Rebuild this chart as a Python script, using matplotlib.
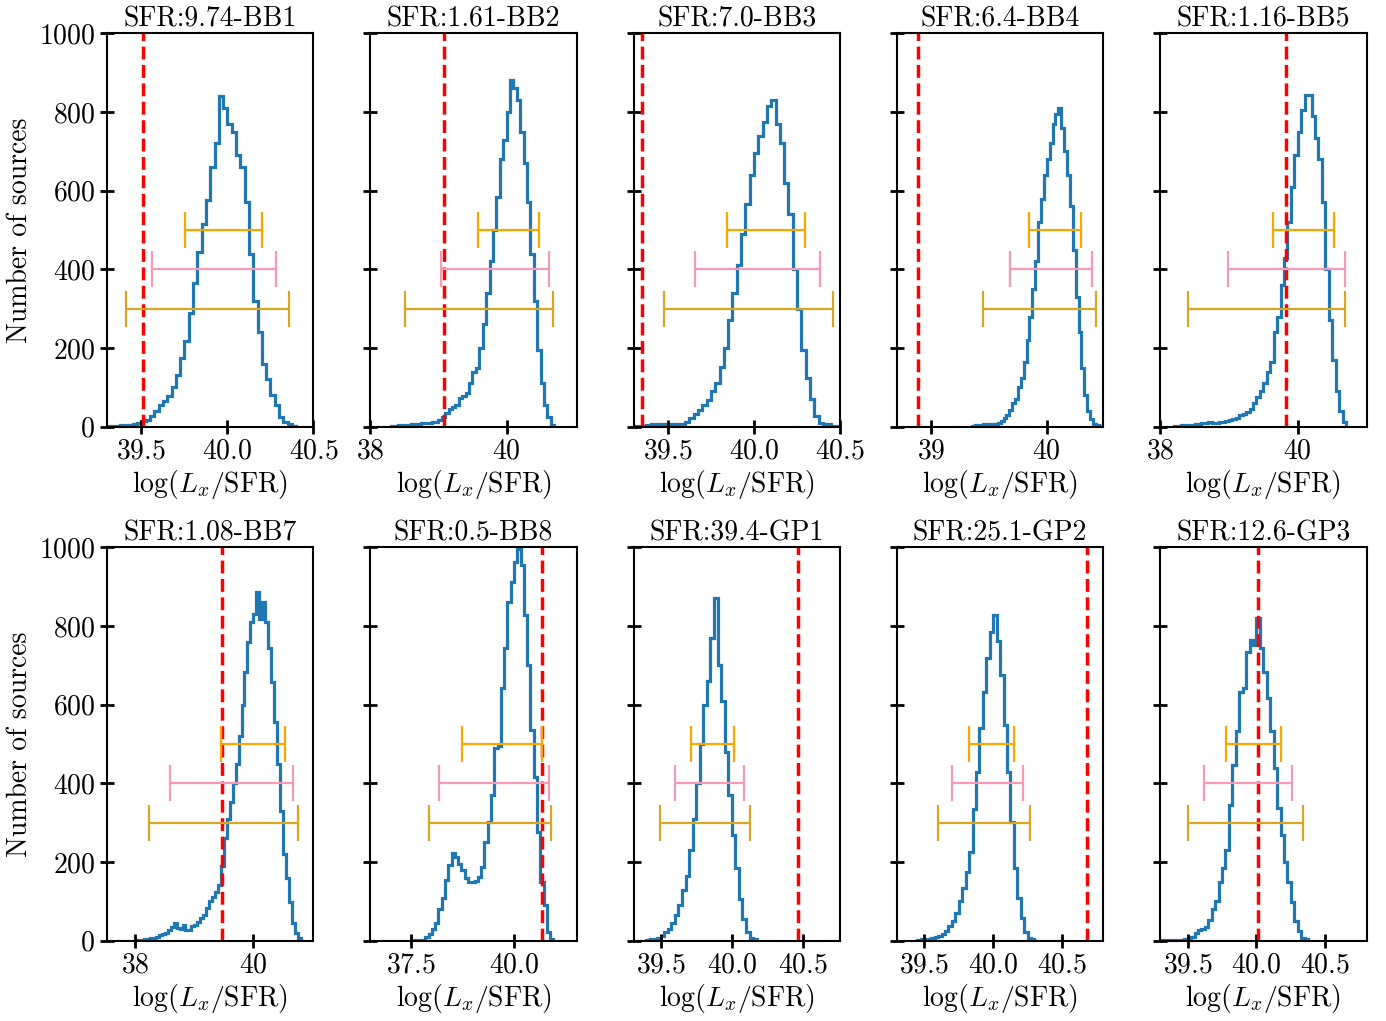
import numpy as np
import matplotlib.pyplot as plt

plt.rcParams['font.family'] = 'serif'
plt.rcParams['font.serif'] = ['cmr10', 'DejaVu Serif']
plt.rcParams['mathtext.fontset'] = 'cm'
plt.rcParams['axes.formatter.use_mathtext'] = True
plt.rcParams['font.size'] = 20

titles = ['SFR:9.74-BB1', 'SFR:1.61-BB2', 'SFR:7.0-BB3', 'SFR:6.4-BB4', 'SFR:1.16-BB5',
          'SFR:1.08-BB7', 'SFR:0.5-BB8', 'SFR:39.4-GP1', 'SFR:25.1-GP2', 'SFR:12.6-GP3']

# red dashed reference line per panel
ref_line = [39.51, 39.083, 39.352, 38.884, 39.831, 39.473, 40.685, 40.462, 40.68, 40.013]

# x-limits and ticks per panel
xlims = [(39.3, 40.5), (38.0, 41.03), (39.3, 40.5), (38.7, 40.49), (38.0, 41.0),
         (37.52, 41.02), (36.5, 41.53), (39.31, 40.76), (39.3, 40.8), (39.3, 40.8)]
xticks = [[39.5, 40.0, 40.5], [38, 40], [39.5, 40.0, 40.5], [39, 40], [38, 40],
          [38, 40], [37.5, 40.0], [39.5, 40.0, 40.5], [39.5, 40.0, 40.5], [39.5, 40.0, 40.5]]

# horizontal ranges (lo, hi) drawn at y=500, 400, 300
range_500 = [(39.752, 40.198), (39.58, 40.473), (39.844, 40.296), (39.846, 40.296), (39.634, 40.53),
             (39.445, 40.538), (38.734, 40.685), (39.713, 40.012), (39.825, 40.148), (39.781, 40.178)]
range_400 = [(39.564, 40.285), (39.039, 40.624), (39.66, 40.385), (39.681, 40.391), (38.993, 40.689),
             (38.595, 40.68), (38.185, 40.847), (39.602, 40.088), (39.699, 40.218), (39.616, 40.258)]
range_300 = [(39.409, 40.358), (38.507, 40.688), (39.475, 40.457), (39.446, 40.423), (38.4, 40.689),
             (38.227, 40.76), (37.927, 40.903), (39.495, 40.128), (39.602, 40.269), (39.502, 40.338)]

# histograms: first bin edge, bin width, counts
hist_start = [39.30, 38.30, 39.30, 39.35, 38.20, 38.00, 37.52, 39.40, 39.45, 39.30]
hist_width = [0.025, 0.05, 0.025, 0.025, 0.05, 0.05, 0.08, 0.025, 0.025, 0.025]

counts_bb1 = [2, 3, 3, 4, 4, 5, 7, 9, 15, 18, 28, 40, 55, 65, 78, 100, 131, 175, 218, 290,
              365, 445, 515, 575, 660, 720, 840, 810, 770, 750, 690, 660, 570, 440, 320, 240,
              160, 120, 80, 55, 25, 12, 6, 2]
counts_bb2 = [3, 3, 4, 4, 5, 5, 6, 6, 8, 9, 10, 10, 11, 13, 16, 25, 35, 45, 50, 55, 72, 78,
              85, 110, 140, 150, 200, 260, 340, 420, 500, 585, 680, 730, 800, 880, 860, 830,
              750, 670, 570, 440, 320, 195, 110, 55, 25, 5]
counts_bb3 = [2, 3, 3, 5, 6, 6, 7, 7, 7, 7, 6, 8, 12, 21, 32, 42, 55, 68, 90, 110, 153, 200,
              270, 340, 410, 490, 565, 640, 695, 740, 775, 815, 831, 770, 720, 620, 540, 400,
              300, 195, 125, 70, 28, 10, 7, 6, 3, 2]
counts_bb4 = [3, 4, 5, 5, 6, 6, 7, 7, 8, 10, 15, 22, 30, 42, 60, 70, 100, 125, 165, 220, 280,
              350, 420, 520, 580, 640, 680, 720, 770, 795, 810, 760, 700, 640, 560, 450, 330,
              240, 150, 80, 40, 20, 8, 5, 2]
counts_bb5 = [3, 3, 4, 4, 5, 5, 6, 8, 10, 10, 11, 10, 10, 11, 12, 14, 18, 20, 22, 30, 32, 38,
              45, 60, 75, 90, 110, 140, 165, 240, 280, 360, 430, 520, 610, 690, 750, 805, 843,
              843, 790, 735, 680, 570, 400, 270, 170, 90, 40, 12]
counts_bb7 = [2, 3, 3, 4, 5, 7, 8, 10, 15, 18, 20, 28, 36, 44, 32, 30, 40, 28, 27, 38, 40, 48,
              57, 65, 82, 100, 110, 125, 142, 190, 260, 310, 353, 400, 450, 520, 600, 684, 760,
              810, 830, 887, 819, 861, 810, 743, 658, 557, 450, 330, 220, 160, 99, 45, 20, 8]
counts_bb8 = [2, 2, 3, 3, 10, 18, 30, 45, 80, 108, 154, 192, 222, 213, 195, 180, 160, 150, 150,
              152, 163, 188, 252, 303, 371, 489, 495, 642, 743, 861, 912, 963, 997, 955, 827,
              700, 536, 417, 277, 150, 91, 23, 4]
counts_gp1 = [3, 4, 5, 8, 12, 22, 30, 45, 65, 90, 130, 165, 230, 310, 400, 500, 600, 660, 770,
              870, 700, 610, 480, 370, 270, 185, 105, 55, 22, 8, 4]
counts_gp2 = [3, 4, 4, 5, 6, 9, 12, 18, 25, 38, 50, 70, 100, 135, 175, 226, 336, 430, 540, 633,
              718, 786, 829, 761, 676, 548, 430, 303, 184, 108, 57, 23, 8, 4]
counts_gp3 = [2, 2, 2, 2, 2, 3, 3, 5, 8, 10, 20, 27, 30, 35, 53, 80, 100, 150, 184, 230, 345,
              447, 532, 633, 642, 735, 765, 752, 820, 743, 684, 616, 532, 439, 337, 270, 200,
              150, 99, 50, 25, 8, 4]

all_counts = [counts_bb1, counts_bb2, counts_bb3, counts_bb4, counts_bb5,
              counts_bb7, counts_bb8, counts_gp1, counts_gp2, counts_gp3]

fig, axes = plt.subplots(2, 5, figsize=(13.86, 10.21), dpi=100, sharey=True)
fig.subplots_adjust(left=0.0772, right=0.986, top=0.9674, bottom=0.0786,
                    wspace=0.275, hspace=0.3066)

for i, ax in enumerate(axes.flat):
    counts = np.array(all_counts[i])
    edges = hist_start[i] + hist_width[i] * np.arange(len(counts) + 1)
    ax.stairs(counts, edges, color='#1f77b4', lw=2.3, baseline=0)
    ax.axvline(ref_line[i], color='red', ls='--', lw=2.5)

    for (lo, hi), yv, c in [(range_500[i], 500, '#ffa500'),
                            (range_400[i], 400, '#f799b8'),
                            (range_300[i], 300, '#daa520')]:
        ax.errorbar((lo + hi) / 2, yv, xerr=(hi - lo) / 2, fmt='none', ecolor=c,
                    elinewidth=1.6, capsize=13, capthick=1.6)

    ax.set_xlim(*xlims[i])
    ax.set_ylim(0, 1000)
    ax.set_xticks(xticks[i])
    ax.set_yticks([0, 200, 400, 600, 800, 1000])
    ax.xaxis.get_major_formatter().set_useOffset(False)
    ax.tick_params(direction='inout', length=10, width=2, top=False, right=False)
    for s in ax.spines.values():
        s.set_linewidth(1.5)
    ax.set_title(titles[i], fontsize=20, pad=5)
    ax.set_xlabel(r'$\log(L_x/\mathrm{SFR})$', fontsize=20, labelpad=2)
    if i % 5 == 0:
        ax.set_ylabel('Number of sources', fontsize=20)

fig.savefig('out.png', dpi=100)
